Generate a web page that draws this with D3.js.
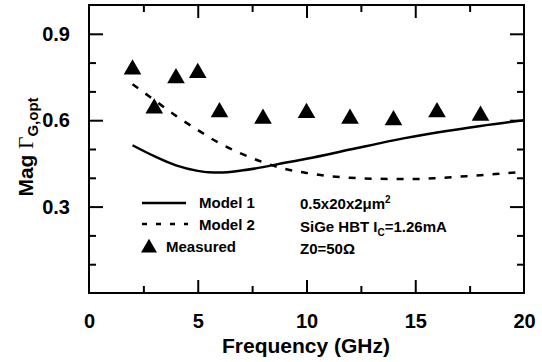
<!DOCTYPE html>
<html><head><meta charset="utf-8">
<script src="https://cdn.jsdelivr.net/npm/d3@7"></script>
<style>
html,body{margin:0;padding:0;background:#fff;}
svg{display:block;}
text{font-family:"Liberation Sans",Arial,Helvetica,sans-serif;font-weight:bold;fill:#000;}
</style></head>
<body>
<svg id="chart" width="542" height="362"></svg>
<script>
const xTicks = [0, 5, 10, 15, 20];
const yTicks = [0.3, 0.6, 0.9];
const model1Freq = [2, 3, 4, 5, 5.5, 6, 7, 8, 9, 10, 12, 14, 16, 18, 20];
const model1Mag  = [0.513, 0.475, 0.443, 0.424, 0.419, 0.418, 0.425, 0.437, 0.452, 0.466, 0.498, 0.530, 0.557, 0.580, 0.600];
const model2Freq = [2, 3, 4, 5, 6, 7, 8, 9, 10, 11, 12, 13, 14, 15, 16, 17, 18, 19, 20];
const model2Mag  = [0.725, 0.670, 0.615, 0.566, 0.520, 0.484, 0.454, 0.431, 0.417, 0.406, 0.400, 0.397, 0.396, 0.396, 0.399, 0.404, 0.409, 0.415, 0.421];
const measFreq = [2, 3, 4, 5, 6, 8, 10, 12, 14, 16, 18];
const measMag  = [0.776, 0.641, 0.746, 0.764, 0.628, 0.605, 0.625, 0.605, 0.600, 0.628, 0.616];

const svg = d3.select("#chart");
const L = 89, R = 524, T = 5, B = 293;
const x = d3.scaleLinear().domain([0, 20]).range([L, R]);
const y = d3.scaleLinear().domain([0, 1]).range([B, T]);

// frame
svg.append("rect").attr("x", L).attr("y", T).attr("width", R - L).attr("height", B - T)
  .attr("fill", "none").attr("stroke", "#000").attr("stroke-width", 2);

const xMinor = [2.5, 7.5, 12.5, 17.5];
const yMinor = [0.1, 0.2, 0.4, 0.5, 0.7, 0.8];
const xMajorIn = [5, 10, 15];

function addAxis(axis, transform) {
  const g = svg.append("g").attr("transform", transform).call(axis);
  g.select(".domain").remove();
  g.selectAll("line").attr("stroke", "#000").attr("stroke-width", 2);
  g.selectAll("text").remove();
  return g;
}
addAxis(d3.axisBottom(x).tickValues(xMajorIn).tickSize(-13), `translate(0,${B})`);
addAxis(d3.axisBottom(x).tickValues(xMinor).tickSize(-7), `translate(0,${B})`);
addAxis(d3.axisTop(x).tickValues(xMajorIn).tickSize(-13), `translate(0,${T})`);
addAxis(d3.axisTop(x).tickValues(xMinor).tickSize(-7), `translate(0,${T})`);
addAxis(d3.axisLeft(y).tickValues(yTicks).tickSize(-14), `translate(${L},0)`);
addAxis(d3.axisLeft(y).tickValues(yMinor).tickSize(-7), `translate(${L},0)`);
addAxis(d3.axisRight(y).tickValues(yTicks).tickSize(-14), `translate(${R},0)`);
addAxis(d3.axisRight(y).tickValues(yMinor).tickSize(-7), `translate(${R},0)`);

// tick labels
const xl = svg.append("g").attr("transform", `translate(0,${B})`)
  .call(d3.axisBottom(x).tickValues(xTicks).tickSize(0).tickPadding(21).tickFormat(d3.format("d")));
xl.select(".domain").remove();
xl.selectAll("text").style("font-size", "20px").style("font-family", '"Liberation Sans",Arial,sans-serif').style("font-weight", "bold");

const yl = svg.append("g").attr("transform", `translate(${L},0)`)
  .call(d3.axisLeft(y).tickValues(yTicks).tickSize(0).tickPadding(19).tickFormat(d3.format(".1f")));
yl.select(".domain").remove();
yl.selectAll("text").style("font-size", "20px").style("font-family", '"Liberation Sans",Arial,sans-serif').style("font-weight", "bold");

// axis titles
svg.append("text").attr("x", 306).attr("y", 353).attr("text-anchor", "middle")
  .style("font-size", "21px").text("Frequency (GHz)");

const yt = svg.append("text").attr("transform", "translate(33,147) rotate(-90)")
  .attr("text-anchor", "middle").style("font-size", "21px");
yt.append("tspan").text("Mag ");
yt.append("tspan").style("font-family", '"Liberation Serif","Times New Roman",serif').style("font-weight", "normal").text("Γ");
yt.append("tspan").attr("dy", 5).style("font-size", "15px").text("G,opt");

// curves
const line = d3.line().x(d => x(d[0])).y(d => y(d[1])).curve(d3.curveMonotoneX);
svg.append("path").datum(model1Freq.map((f, i) => [f, model1Mag[i]]))
  .attr("d", line).attr("fill", "none").attr("stroke", "#000").attr("stroke-width", 2.5);
svg.append("path").datum(model2Freq.map((f, i) => [f, model2Mag[i]]))
  .attr("d", line).attr("fill", "none").attr("stroke", "#000").attr("stroke-width", 2.5)
  .attr("stroke-dasharray", "7,9");

// measured
const tri = d3.symbol().type(d3.symbolTriangle).size(135);
svg.append("g").selectAll("path").data(measFreq.map((f, i) => [f, measMag[i]])).join("path")
  .attr("d", tri).attr("transform", d => `translate(${x(d[0])},${y(d[1])})`).attr("fill", "#000");

// legend
const lg = svg.append("g");
lg.append("line").attr("x1", 142).attr("x2", 186).attr("y1", 203).attr("y2", 203)
  .attr("stroke", "#000").attr("stroke-width", 2.5);
lg.append("line").attr("x1", 142).attr("x2", 188).attr("y1", 224).attr("y2", 224)
  .attr("stroke", "#000").attr("stroke-width", 2.5).attr("stroke-dasharray", "5,9");
lg.append("path").attr("d", d3.symbol().type(d3.symbolTriangle).size(110)())
  .attr("transform", "translate(149,248)").attr("fill", "#000");
lg.append("text").attr("x", 199).attr("y", 208).style("font-size", "15px").text("Model 1");
lg.append("text").attr("x", 199).attr("y", 230).style("font-size", "15px").text("Model 2");
lg.append("text").attr("x", 166).attr("y", 252).style("font-size", "15px").text("Measured");

// annotation
const an = svg.append("g").style("font-size", "15px");
const a1 = an.append("text").attr("x", 300).attr("y", 209);
a1.append("tspan").text("0.5x20x2μm");
a1.append("tspan").attr("dy", -6).style("font-size", "10px").text("2");
const a2 = an.append("text").attr("x", 300).attr("y", 232);
a2.append("tspan").text("SiGe HBT I");
a2.append("tspan").attr("dy", 4).style("font-size", "10px").text("C");
a2.append("tspan").attr("dy", -4).text("=1.26mA");
an.append("text").attr("x", 300).attr("y", 254).text("Z0=50Ω");
</script>
</body></html>
